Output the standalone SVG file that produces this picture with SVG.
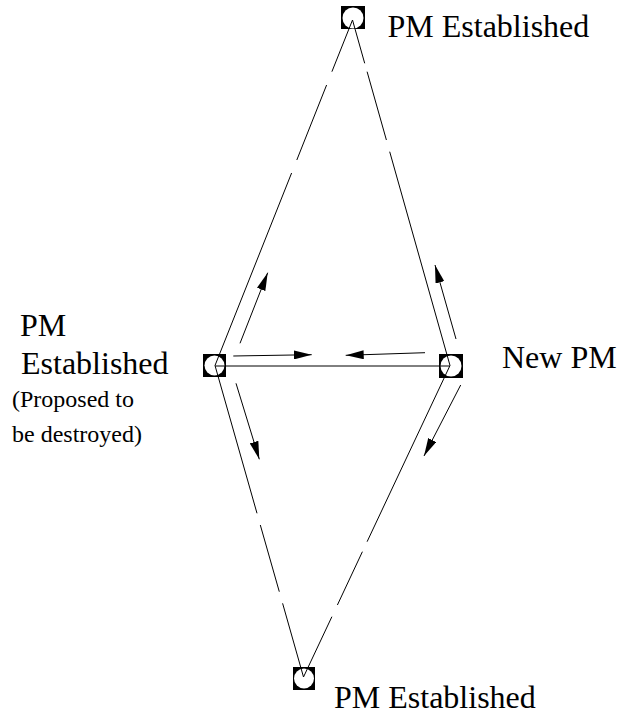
<svg xmlns="http://www.w3.org/2000/svg" width="623" height="715" viewBox="0 0 623 715">
<style>
text{font-family:'Liberation Serif','Times New Roman',serif;font-size:32px;fill:#000}
.sm{font-size:24px}
.box{fill:#000}
.hole{fill:#fff}
.edge{fill:none;stroke:#000;stroke-width:1}
.arr{fill:none;stroke:#000;stroke-width:1;marker-end:url(#ah)}
</style>
<defs>
<marker id="ah" viewBox="0 0 18 9" refX="18" refY="4.5" markerWidth="18" markerHeight="9" markerUnits="userSpaceOnUse" orient="auto">
<path d="M0,0 L18,4.5 L0,9 z" fill="#000"/>
</marker>
</defs>
<rect width="623" height="715" fill="#fff"/>
<g id="node-top">
<rect class="box" x="341" y="6" width="24" height="23"/>
<circle class="hole" cx="353" cy="18" r="10.5"/>
<text x="387.5" y="37">PM Established</text>
</g>
<g id="node-left">
<rect class="box" x="203" y="354" width="23" height="23"/>
<circle class="hole" cx="214.5" cy="365.5" r="10"/>
<text x="20" y="336">PM</text>
<text x="21" y="374">Established</text>
<text class="sm" x="12" y="407">(Proposed to</text>
<text class="sm" x="12" y="442">be destroyed)</text>
</g>
<g id="node-right">
<rect class="box" x="439" y="354" width="24" height="24"/>
<circle class="hole" cx="451" cy="366" r="10.5"/>
<text x="502" y="368">New PM</text>
</g>
<g id="node-bottom">
<rect class="box" x="293" y="667" width="22" height="23"/>
<circle class="hole" cx="304" cy="678.5" r="10"/>
<text x="334" y="708">PM Established</text>
</g>
<g id="connectors">
<path class="edge" d="M352.5,20 L331.9,71.7 M326.6,85 L296.8,160 M291.6,173 L215,365.5"/>
<path class="edge" d="M352.5,20 L364.7,63.3 M367.1,71.7 L386.4,140 M389.7,151.7 L450,365.5"/>
<path class="edge" d="M215,365.5 L257,513.3 M260.3,525 L279.3,591.7 M282.6,603.3 L303.5,677"/>
<path class="edge" d="M450,365.5 L367.1,541.7 M362.4,551.7 L337.4,605 M331.9,616.7 L303.5,677"/>
<path class="edge" d="M215,366 L450,366"/>
<path class="arr" d="M240,343.3 L267.7,272.7"/>
<path class="arr" d="M236,383.3 L259.3,459.3"/>
<path class="arr" d="M456,339 L435,265"/>
<path class="arr" d="M460.7,385 L424,456"/>
<path class="arr" d="M233.3,356 L311.7,354.7"/>
<path class="arr" d="M425,352.7 L345.7,355.3"/>
</g>
</svg>
